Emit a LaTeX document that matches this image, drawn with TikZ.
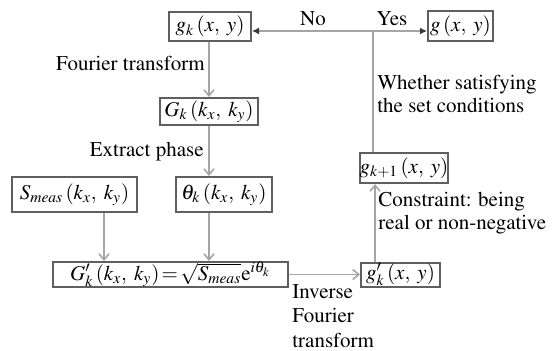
\documentclass[tikz,border=0pt]{standalone}
\definecolor{boxgray}{RGB}{95,95,95}
\definecolor{linegray}{RGB}{165,165,165}
\usepackage{amsmath}
\usepackage[T1]{fontenc}
\usepackage{mathptmx}
\usepackage{tikz}
\usetikzlibrary{arrows.meta,positioning,calc}

\tikzset{
    stepbox/.style={draw=boxgray, line width=1pt, inner sep=0pt, align=center},
    flowline/.style={draw=linegray, line width=0.8pt, -{Straight Barb[length=3pt,width=5pt]}},
    backline/.style={draw=linegray, line width=0.8pt, -{Latex[length=3.5pt,width=3.5pt,color=boxgray!60!black]}},
    plainline/.style={draw=linegray, line width=0.8pt},
    note/.style={inner sep=0pt, align=left, font=\fontsize{10.5}{11.5}\selectfont}
}

\begin{document}
\begin{tikzpicture}[x=0.5pt, y=-0.5pt, font=\fontsize{10.5}{11.5}\selectfont]
    \useasboundingbox (0,0) rectangle (552,350);

    % boxes
    \node[stepbox, minimum width=41pt, minimum height=14.5pt] (gk) at (210,26.5) {$g_k\,(x,\;y)$};
    \node[stepbox, minimum width=32.5pt, minimum height=15pt] (gfin) at (460.5,26) {$g\,(x,\;y)$};
    \node[stepbox, minimum width=49pt, minimum height=13.5pt] (Gk) at (209,111.5) {$G_k\,(k_x,\;k_y)$};
    \node[stepbox, minimum width=62.5pt, minimum height=17.5pt] (Smeas) at (74.5,194.5) {$S_{meas}\,(k_x,\;k_y)$};
    \node[stepbox, minimum width=48pt, minimum height=17.5pt] (thk) at (224,194.5) {$\theta_k\,(k_x,\;k_y)$};
    \node[stepbox, minimum width=117.5pt, minimum height=12.5pt] (Gp) at (170.5,274.5)
        {$G_k'\,(k_x,\;k_y)\!=\!\sqrt{S_{meas}}\mathrm{e}^{i\theta_k}$};
    \node[stepbox, minimum width=39.5pt, minimum height=12pt] (gpk) at (400.5,274.5) {$g_k'\,(x,\;y)$};
    \node[stepbox, minimum width=43pt, minimum height=15pt] (gk1) at (404,168) {$g_{k+1}\,(x,\;y)$};
    \coordinate (split) at (373,31);

    % connectors
    \draw[flowline] (gk.south -| Gk.north) -- (Gk.north);
    \draw[flowline] (Gk.south) -- (Gk.south |- thk.north);
    \draw[flowline] ([xshift=14.75pt]Smeas.south) -- ([xshift=14.75pt]Smeas.south |- Gp.north);
    \draw[flowline] (Gk.south |- thk.south) -- (Gk.south |- Gp.north);
    \draw[flowline] (Gp.east) -- (gpk.west);
    \draw[flowline] ([xshift=-12.75pt]gpk.north) -- ([xshift=-12.75pt]gpk.north |- gk1.south);
    \draw[plainline] (gk1.north -| split) -- (split);
    \draw[backline] (split) -- (gk.east |- split);
    \draw[backline] (split) -- (gfin.west |- split);

    % labels
    \node[note] (no) at (313,19) {No};
    \node[note] (yes) at (392,19) {Yes};
    \node[note, anchor=east] (ft) at (205,63) {Fourier transform};
    \node[note, anchor=east] (ep) at (204,152) {Extract phase};
    \node[note, anchor=west] (cond) at (377,94) {Whether satisfying\\the set conditions};
    \node[note, anchor=west] (cons) at (378,213) {Constraint: being\\real or non-negative};
    \node[note, anchor=west, font=\fontsize{10.5}{12.2}\selectfont] (ift) at (292,316) {Inverse\\Fourier\\transform};
\end{tikzpicture}
\end{document}
